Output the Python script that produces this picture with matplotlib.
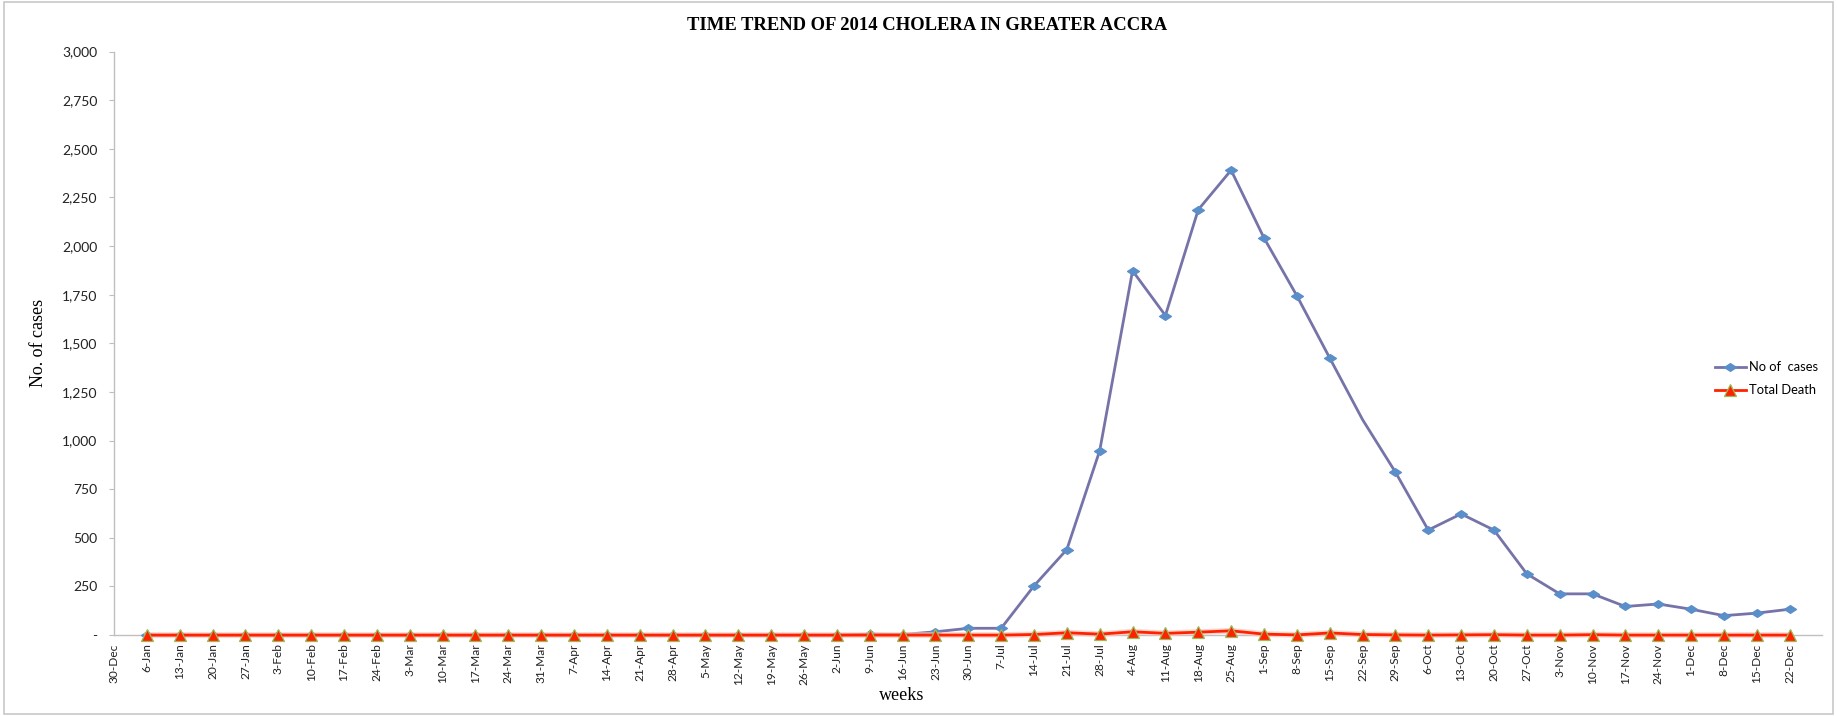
import numpy as np
import matplotlib
matplotlib.use("Agg")
import matplotlib.pyplot as plt
from matplotlib.patches import Rectangle
from matplotlib.path import Path
from matplotlib.ticker import FuncFormatter, MultipleLocator

# Weekly labels (week starting dates)
weeks = ["30-Dec",
         "6-Jan", "13-Jan", "20-Jan", "27-Jan",
         "3-Feb", "10-Feb", "17-Feb", "24-Feb",
         "3-Mar", "10-Mar", "17-Mar", "24-Mar", "31-Mar",
         "7-Apr", "14-Apr", "21-Apr", "28-Apr",
         "5-May", "12-May", "19-May", "26-May",
         "2-Jun", "9-Jun", "16-Jun", "23-Jun", "30-Jun",
         "7-Jul", "14-Jul", "21-Jul", "28-Jul",
         "4-Aug", "11-Aug", "18-Aug", "25-Aug",
         "1-Sep", "8-Sep", "15-Sep", "22-Sep", "29-Sep",
         "6-Oct", "13-Oct", "20-Oct", "27-Oct",
         "3-Nov", "10-Nov", "17-Nov", "24-Nov",
         "1-Dec", "8-Dec", "15-Dec", "22-Dec"]

# Weekly cholera cases (nothing reported for the first week)
cases = [np.nan,
         0, 0, 0, 0,
         0, 0, 0, 0,
         0, 0, 0, 0, 0,
         0, 0, 0, 0,
         0, 0, 0, 0,
         0, 5, 3, 17, 35,
         35, 253, 440, 948,
         1873, 1643, 2187, 2390,
         2042, 1745, 1425, 1108, 838,
         540, 623, 540, 315,
         212, 212, 147, 160,
         133, 100, 113, 133]

# Weekly deaths
deaths = [np.nan,
          0, 0, 0, 0,
          0, 0, 0, 0,
          0, 0, 0, 0, 0,
          0, 0, 0, 0,
          0, 0, 0, 0,
          0, 0, 0, 0, 0,
          0, 3, 12, 5,
          17, 9, 15, 22,
          5, 1, 11, 3, 1,
          0, 1, 2, 0,
          0, 2, 0, 0,
          0, 0, 0, 0]

x = np.arange(len(weeks))

# flat diamond marker
diamond = Path([(-1, 0), (0, 0.65), (1, 0), (0, -0.65), (-1, 0)],
               [Path.MOVETO, Path.LINETO, Path.LINETO, Path.LINETO, Path.CLOSEPOLY])

fig = plt.figure(figsize=(18.37, 7.16), dpi=100)
ax = fig.add_axes([0.0621, 0.113, 0.930, 0.815])

# the 22-Sep point carries no marker
case_marks = [i for i in range(1, len(weeks)) if weeks[i] != "22-Sep"]
ax.plot(x, cases, color="#7673A9", lw=2.0, marker=diamond, markersize=8.5,
        markerfacecolor="#5A8FC9", markeredgecolor="#5A8FC9",
        markevery=case_marks, label="No of  cases", zorder=3, clip_on=False)
# soft glow under the deaths line
ax.plot(x, deaths, color="#FFC4B8", lw=4.2, alpha=0.7, zorder=3.5, clip_on=False)
ax.plot(x, deaths, color="#FF2200", lw=2.0, marker="^", markersize=8.0,
        markerfacecolor="#FF2200", markeredgecolor="#9BBB59",
        markeredgewidth=0.9, label="Total Death", zorder=4, clip_on=False)

ax.set_xlim(0, 52)
ax.set_ylim(0, 3000)
ax.yaxis.set_major_locator(MultipleLocator(250))
ax.yaxis.set_major_formatter(FuncFormatter(lambda v, p: "-" if v == 0 else f"{int(v):,}"))
ax.set_xticks(x)
ax.set_xticklabels(weeks, rotation=90, fontsize=8.6, family="Lato", color="#222222")
for lab in ax.get_yticklabels():
    lab.set_family("Lato")
ax.tick_params(axis="y", labelsize=10, colors="#BFBFBF", labelcolor="#222222",
               length=3.6, width=0.8, pad=8.5)
ax.tick_params(axis="x", length=0, pad=6)

for s in ("top", "right"):
    ax.spines[s].set_visible(False)
for s in ("left", "bottom"):
    ax.spines[s].set_color("#BFBFBF")
    ax.spines[s].set_linewidth(1.0)

fig.text(0.0212, 0.521, "No. of cases", rotation=90, ha="center", va="center",
         family="Liberation Serif", fontsize=13)
fig.text(0.491, 0.029, "weeks", ha="center", va="center",
         family="Liberation Serif", fontsize=13)
fig.text(0.5046, 0.964, "TIME TREND OF 2014 CHOLERA IN GREATER ACCRA",
         ha="center", va="center", family="Liberation Serif",
         fontweight="bold", fontsize=13.4)

fig.legend(loc="center left", bbox_to_anchor=(0.9335, 0.471), frameon=False,
           prop={"family": "Lato", "size": 9.3}, handlelength=2.4,
           labelspacing=0.85, handletextpad=0.25, borderaxespad=0, borderpad=0)

fig.patches.append(Rectangle((0.002, 0.003), 0.996, 0.994, transform=fig.transFigure,
                             fill=False, edgecolor="#C8C8C8", lw=1.2))

fig.savefig("out.png", dpi=100, facecolor="white")
